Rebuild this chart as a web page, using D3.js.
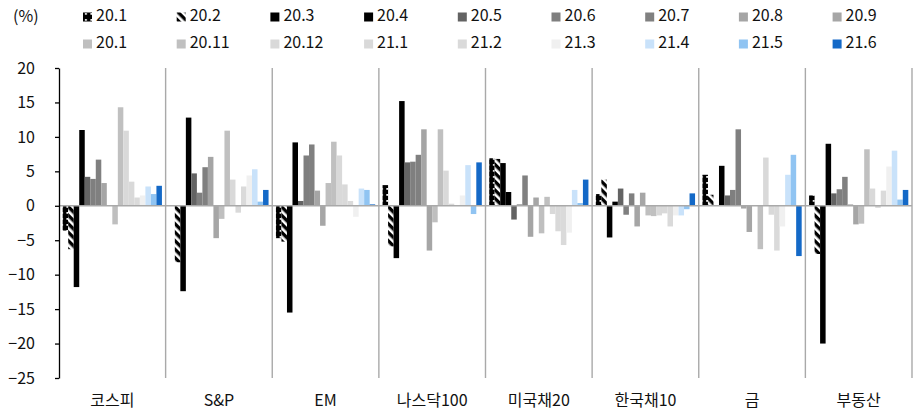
<!DOCTYPE html>
<html>
<head>
<meta charset="utf-8">
<script src="https://cdn.jsdelivr.net/npm/d3@7"></script>
<style>
  html, body { margin: 0; padding: 0; background: #fff; }
  svg { display: block; font-family: "Noto Sans CJK KR", "Noto Sans", sans-serif; }
</style>
</head>
<body>
<svg id="chart" width="914" height="414"></svg>
<script>
// Asset categories on the x axis
const categories = ["코스피", "S&P", "EM", "나스닥100", "미국채20", "한국채10", "금", "부동산"];

// Monthly periods (series); the tenth label reads "20.1" as printed in the legend
const seriesLabels = ["20.1", "20.2", "20.3", "20.4", "20.5", "20.6", "20.7", "20.8", "20.9",
                      "20.1", "20.11", "20.12", "21.1", "21.2", "21.3", "21.4", "21.5", "21.6"];

// Monthly returns (%) per asset, one value per period in legend order
const kospi    = [-3.6, -6.3, -11.8, 11.0, 4.2, 3.9, 6.7, 3.3, 0.0, -2.7, 14.3, 10.9, 3.5, 1.2, 1.5, 2.8, 1.7, 2.9];
const sp       = [0.0, -8.2, -12.4, 12.8, 4.7, 1.9, 5.6, 7.1, -4.7, -1.9, 10.9, 3.8, -1.0, 2.8, 4.4, 5.3, 0.6, 2.3];
const em       = [-4.7, -5.2, -15.5, 9.2, 0.7, 7.3, 8.9, 2.2, -2.9, 3.3, 9.3, 7.3, 3.1, 0.7, -1.6, 2.5, 2.3, 0.2];
const nasdaq   = [3.0, -5.9, -7.6, 15.2, 6.3, 6.4, 7.4, 11.1, -6.5, -2.4, 11.1, 5.1, 0.3, 0.0, 1.5, 5.9, -1.2, 6.3];
const ust20    = [6.9, 6.8, 6.2, 2.0, -2.0, 0.2, 4.4, -4.5, 1.2, -4.0, 1.3, -1.2, -3.7, -5.7, -3.9, 2.3, 0.4, 3.8];
const ktb10    = [1.7, 3.8, -4.6, 0.6, 2.5, -1.3, 1.8, -3.0, 1.9, -1.4, -1.5, -1.4, -1.1, -3.0, -1.4, -1.4, -0.5, 1.8];
const gold     = [4.5, 1.6, 0.0, 5.8, 1.5, 2.3, 11.1, -0.4, -3.8, 0.0, -6.3, 7.0, -1.3, -6.5, -3.0, 4.5, 7.4, -7.3];
const realty   = [1.5, -7.0, -20.0, 9.0, 1.8, 2.4, 4.2, 0.2, -2.7, -2.6, 8.2, 2.5, -0.3, 2.2, 5.7, 8.0, 0.9, 2.3];

const valuesByCategory = [kospi, sp, em, nasdaq, ust20, ktb10, gold, realty];

// Y axis tick values
const yTicks = [20, 15, 10, 5, 0, -5, -10, -15, -20, -25];

// Series fills
const seriesFills = ["url(#dots)", "url(#stripes)", "#000000", "#000000", "#636363", "#7f7f7f", "#808080",
                     "#a5a5a5", "#a6a6a6", "#bfbfbf", "#c0c0c0", "#d9d9d9", "#d9d9d9", "#dadada",
                     "#f0f0f0", "#c9e2fa", "#90c4f2", "#1469c7"];

const svg = d3.select("#chart");

// Patterns for the first two periods
const defs = svg.append("defs");
const dots = defs.append("pattern").attr("id", "dots")
  .attr("patternUnits", "userSpaceOnUse").attr("width", 5.5).attr("height", 6);
dots.append("rect").attr("width", 5.5).attr("height", 6).attr("fill", "#000");
dots.append("rect").attr("x", 2).attr("y", 2).attr("width", 1.8).attr("height", 1.8).attr("fill", "#fff");

const stripes = defs.append("pattern").attr("id", "stripes")
  .attr("patternUnits", "userSpaceOnUse").attr("width", 6).attr("height", 6)
  .attr("patternTransform", "rotate(-45)");
stripes.append("rect").attr("width", 6).attr("height", 6).attr("fill", "#000");
stripes.append("rect").attr("x", 0).attr("y", 0).attr("width", 2.6).attr("height", 6).attr("fill", "#fff");

// Plot area
const plotLeft = 59, plotRight = 912, plotTop = 68, plotBottom = 378;
const x0 = d3.scaleBand().domain(categories).range([plotLeft, plotRight]).padding(0);
const x1 = d3.scaleBand().domain(d3.range(seriesLabels.length))
  .range([0, x0.bandwidth()]).paddingInner(0).paddingOuter(0.67);
const y = d3.scaleLinear().domain([-25, 20]).range([plotBottom, plotTop]);

// Vertical separators between categories
svg.append("g").selectAll("line")
  .data(categories.slice(1).concat(["__end"]))
  .join("line")
  .attr("x1", d => d === "__end" ? plotRight : x0(d))
  .attr("x2", d => d === "__end" ? plotRight : x0(d))
  .attr("y1", plotTop).attr("y2", plotBottom)
  .attr("stroke", "#a9a9a9").attr("stroke-width", 1.4);

// Bars
const groups = svg.append("g").selectAll("g")
  .data(categories)
  .join("g")
  .attr("transform", d => `translate(${x0(d)},0)`);

groups.selectAll("rect")
  .data((c, ci) => valuesByCategory[ci].map((v, si) => ({ v, si })))
  .join("rect")
  .attr("x", d => x1(d.si))
  .attr("width", x1.bandwidth())
  .attr("y", d => y(Math.max(0, d.v)))
  .attr("height", d => Math.abs(y(d.v) - y(0)))
  .attr("fill", d => seriesFills[d.si]);

// Zero line
svg.append("line")
  .attr("x1", plotLeft).attr("x2", plotRight)
  .attr("y1", y(0)).attr("y2", y(0))
  .attr("stroke", "#a9a9a9").attr("stroke-width", 1.4);

// Y axis
const yAxis = svg.append("g")
  .attr("transform", `translate(${plotLeft},0)`)
  .call(d3.axisLeft(y).tickValues(yTicks).tickSize(4).tickSizeOuter(0).tickPadding(20));
yAxis.select(".domain").attr("stroke", "#000").attr("stroke-width", 1.3);
yAxis.selectAll(".tick line").attr("stroke", "#000").attr("stroke-width", 1.3);
yAxis.selectAll(".tick text")
  .attr("font-size", 16).attr("fill", "#111")
  .style("font-family", "\"Noto Sans CJK KR\", sans-serif");

// Category labels
svg.append("g").selectAll("text")
  .data(categories)
  .join("text")
  .attr("x", d => x0(d) + x0.bandwidth() / 2)
  .attr("y", 402)
  .attr("text-anchor", "middle")
  .attr("dominant-baseline", "middle")
  .attr("font-size", 16)
  .attr("fill", "#111")
  .text(d => d);

// Unit label
svg.append("text")
  .attr("x", 13).attr("y", 18)
  .attr("dominant-baseline", "middle")
  .attr("font-size", 16).attr("fill", "#111")
  .text("(%)");

// Legend: two rows of nine
const legend = svg.append("g").selectAll("g")
  .data(seriesLabels.map((label, i) => ({ label, i })))
  .join("g")
  .attr("transform", d => `translate(${83 + (d.i % 9) * 93.7},${d.i < 9 ? 17 : 44})`);
legend.append("rect")
  .attr("x", 0).attr("y", -4.5).attr("width", 9).attr("height", 9)
  .attr("fill", d => seriesFills[d.i]);
legend.append("text")
  .attr("x", 13).attr("y", 0)
  .attr("dominant-baseline", "middle")
  .attr("font-size", 16).attr("fill", "#111")
  .text(d => d.label);
</script>
</body>
</html>
